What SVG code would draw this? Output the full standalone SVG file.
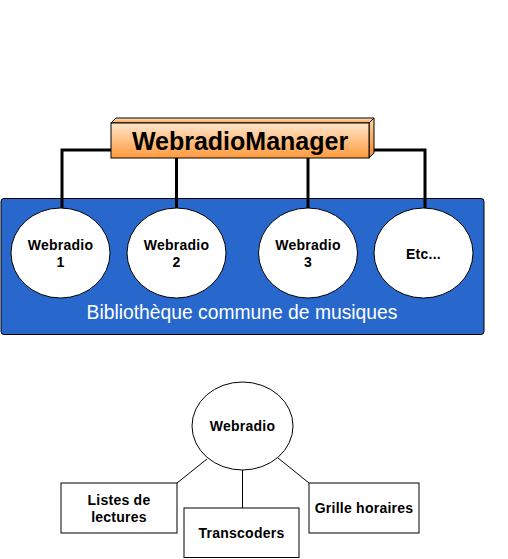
<svg xmlns="http://www.w3.org/2000/svg" width="508" height="559" viewBox="0 0 508 559">
<defs>
<linearGradient id="og" x1="0" y1="0" x2="0" y2="1">
<stop offset="0" stop-color="#FFE6CC"/>
<stop offset="1" stop-color="#FF9A3C"/>
</linearGradient>
<linearGradient id="ogs" x1="0" y1="0" x2="0" y2="1">
<stop offset="0" stop-color="#FFD0A0"/>
<stop offset="1" stop-color="#F08A2C"/>
</linearGradient>
<style>
.ln{stroke:#000;fill:none}
.thick{stroke-width:3}
.thin{stroke-width:1}
.circ{fill:#fff;stroke:#000;stroke-width:1}
.box{fill:#fff;stroke:#000;stroke-width:1}
.t{font-family:"Liberation Sans",Arial,sans-serif;font-weight:bold;font-size:14px;letter-spacing:0.25px;fill:#000;text-anchor:middle}
</style>
</defs>
<rect width="508" height="559" fill="#fff"/>
<g id="library">
<rect x="1" y="198.5" width="483" height="136" rx="3" fill="#2868CC" stroke="#000" stroke-width="1"/>
<text x="242" y="319" font-family="Liberation Sans,Arial,sans-serif" font-size="19.3" fill="#fff" text-anchor="middle">Bibliothèque commune de musiques</text>
</g>
<g id="connectors">
<polyline class="ln thick" points="111,150 62,150 62,208"/>
<polyline class="ln thick" points="374,150 425,150 425,208"/>
<line class="ln thick" x1="176.5" y1="158" x2="176.5" y2="208"/>
<line class="ln thick" x1="308" y1="158" x2="308" y2="208"/>
<line class="ln thin" x1="207" y1="459" x2="177" y2="483"/>
<line class="ln thin" x1="242.5" y1="470" x2="242.5" y2="508"/>
<line class="ln thin" x1="278" y1="458" x2="309" y2="483"/>
</g>
<g id="manager">
<polygon points="111,123 116,118 374,118 369,123" fill="url(#og)" stroke="#000" stroke-width="1"/>
<polygon points="369,123 374,118 374,153 369,158" fill="url(#ogs)" stroke="#000" stroke-width="1"/>
<rect x="111" y="123" width="258" height="35" fill="url(#og)" stroke="#000" stroke-width="1"/>
<text x="240" y="149.5" font-family="Liberation Sans,Arial,sans-serif" font-weight="bold" font-size="25" fill="#000" text-anchor="middle">WebradioManager</text>
</g>
<g id="webradio1">
<ellipse class="circ" cx="60.5" cy="253" rx="49.5" ry="45"/>
<text class="t" x="60.5" y="250">Webradio</text>
<text class="t" x="60.5" y="266.5">1</text>
</g>
<g id="webradio2">
<ellipse class="circ" cx="176.5" cy="253" rx="49.5" ry="45"/>
<text class="t" x="176.5" y="250">Webradio</text>
<text class="t" x="176.5" y="266.5">2</text>
</g>
<g id="webradio3">
<ellipse class="circ" cx="308" cy="253" rx="49.5" ry="45"/>
<text class="t" x="308" y="250">Webradio</text>
<text class="t" x="308" y="266.5">3</text>
</g>
<g id="etc">
<ellipse class="circ" cx="423.5" cy="253" rx="49.5" ry="45"/>
<text class="t" x="423.5" y="258.5">Etc...</text>
</g>
<g id="webradio">
<ellipse class="circ" cx="242.5" cy="426" rx="50.5" ry="44"/>
<text class="t" x="242.5" y="430.5">Webradio</text>
</g>
<g id="listes">
<rect class="box" x="61" y="483" width="116" height="50"/>
<text class="t" x="119" y="504.5">Listes de</text>
<text class="t" x="119" y="521.5">lectures</text>
</g>
<g id="transcoders">
<rect class="box" x="184" y="508" width="115" height="49.5"/>
<text class="t" x="241.5" y="538">Transcoders</text>
</g>
<g id="grille">
<rect class="box" x="309" y="483" width="110" height="50"/>
<text class="t" x="364" y="512.5">Grille horaires</text>
</g>
</svg>
